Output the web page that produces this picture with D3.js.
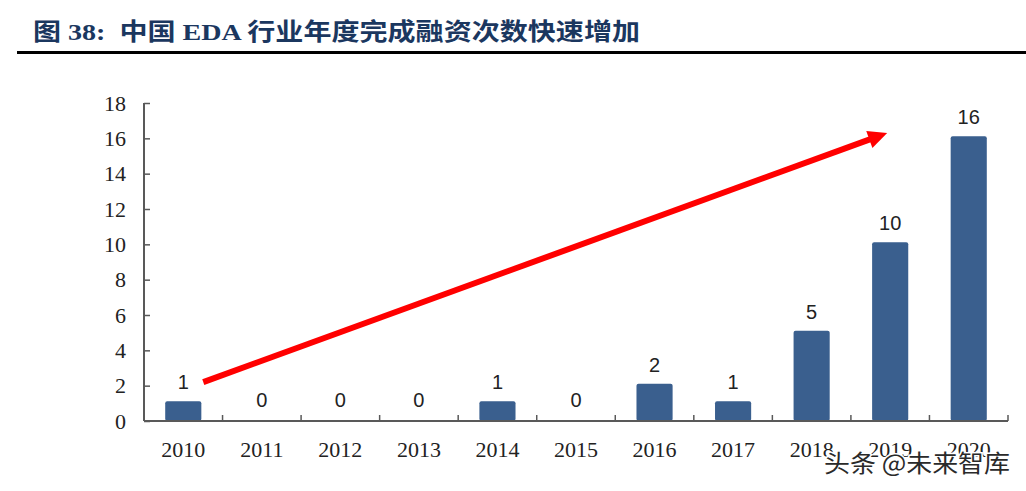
<!DOCTYPE html>
<html>
<head>
<meta charset="utf-8">
<script src="https://cdn.jsdelivr.net/npm/d3@7"></script>
<style>
  html, body { margin: 0; padding: 0; background: #fff; }
  svg { display: block; }
</style>
</head>
<body>
<div id="chart"></div>
<script>
// ---- data ----
const years = ["2010","2011","2012","2013","2014","2015","2016","2017","2018","2019","2020"];
const counts = [1, 0, 0, 0, 1, 0, 2, 1, 5, 10, 16];
const yTicks = [0, 2, 4, 6, 8, 10, 12, 14, 16, 18];
const titleText = "图 38:  中国 EDA 行业年度完成融资次数快速增加";
const watermarkText = "头条 @未来智库";
// trend arrow annotation in data space: [category, value]
const arrowFrom = ["2010", 2.2];
const arrowTo = ["2019", 16.3];

// ---- layout ----
const W = 1026, H = 491;
const margin = { left: 144, right: 18, top: 103, bottom: 70 };
const plotW = W - margin.left - margin.right;
const plotH = H - margin.top - margin.bottom;

const svg = d3.select("#chart").append("svg")
  .attr("width", W).attr("height", H);

// title
svg.append("text")
  .attr("x", 33).attr("y", 40)
  .attr("font-family", "'Liberation Serif', 'Noto Sans CJK SC', serif")
  .attr("font-weight", "bold")
  .attr("font-size", 24)
  .attr("fill", "#1b375f")
  .attr("textLength", 607)
  .attr("lengthAdjust", "spacingAndGlyphs")
  .style("white-space", "pre")
  .text(titleText);

svg.append("line")
  .attr("x1", 17).attr("x2", W)
  .attr("y1", 52.5).attr("y2", 52.5)
  .attr("stroke", "#000").attr("stroke-width", 3);

const g = svg.append("g").attr("transform", `translate(${margin.left},${margin.top})`);

const x = d3.scaleBand().domain(years).range([0, plotW])
  .paddingInner(0.54).paddingOuter(0.27);
const y = d3.scaleLinear().domain([0, 18]).range([plotH, 0]);
const step = x.step();
const lift = v => (v > 0 ? 2 : 0);

// bars
g.selectAll("rect.bar").data(years).join("rect")
  .attr("class", "bar")
  .attr("x", d => x(d))
  .attr("width", x.bandwidth())
  .attr("y", (d, i) => y(counts[i]) - lift(counts[i]))
  .attr("height", (d, i) => plotH - y(counts[i]) + lift(counts[i]))
  .attr("rx", 2)
  .attr("fill", "#3a5f8e");

// value labels
g.selectAll("text.val").data(years).join("text")
  .attr("class", "val")
  .attr("x", d => x(d) + x.bandwidth() / 2)
  .attr("y", (d, i) => y(counts[i]) - 14)
  .attr("text-anchor", "middle")
  .attr("font-family", "'Liberation Sans', Arial, sans-serif")
  .attr("font-size", 20)
  .attr("fill", "#222")
  .text((d, i) => counts[i]);

// y axis
const axisColor = "#595959";
const yAxis = g.append("g")
  .call(d3.axisLeft(y).tickValues(yTicks).tickSize(-6).tickPadding(18).tickFormat(d3.format("d")));
yAxis.select(".domain").attr("stroke", axisColor).attr("stroke-width", 2)
  .attr("d", `M0,0V${plotH}`);
yAxis.selectAll(".tick line").attr("stroke", axisColor).attr("stroke-width", 1.5);
yAxis.selectAll(".tick text")
  .attr("font-family", "'Liberation Serif', 'Times New Roman', serif")
  .attr("font-size", 22).attr("fill", "#222");

// x axis
const xAxis = g.append("g").attr("transform", `translate(0,${plotH})`)
  .call(d3.axisBottom(x).tickSize(0).tickPadding(20));
xAxis.select(".domain").attr("stroke", axisColor).attr("stroke-width", 2)
  .attr("d", `M0,0H${plotW}`);
xAxis.selectAll(".tick text")
  .attr("font-family", "'Liberation Serif', 'Times New Roman', serif")
  .attr("font-size", 22).attr("fill", "#222");
// boundary ticks between categories (pointing up)
g.selectAll("line.xb").data(years).join("line")
  .attr("class", "xb")
  .attr("x1", d => x(d) - (step - x.bandwidth()) / 2 + step)
  .attr("x2", d => x(d) - (step - x.bandwidth()) / 2 + step)
  .attr("y1", plotH).attr("y2", plotH - 6)
  .attr("stroke", axisColor).attr("stroke-width", 1.5);

// red trend arrow
const ax1 = x(arrowFrom[0]) + x.bandwidth() / 2 + 20;
const ay1 = y(arrowFrom[1]);
const ax2 = x(arrowTo[0]) + x.bandwidth() / 2 - 3;
const ay2 = y(arrowTo[1]);
const ang = Math.atan2(ay2 - ay1, ax2 - ax1);
const headLen = 19, headHalf = 9;
const bx = ax2 - headLen * Math.cos(ang), by = ay2 - headLen * Math.sin(ang);
g.append("line")
  .attr("x1", ax1).attr("y1", ay1)
  .attr("x2", bx + 2 * Math.cos(ang)).attr("y2", by + 2 * Math.sin(ang))
  .attr("stroke", "#ff0000").attr("stroke-width", 6);
const nx = -Math.sin(ang), ny = Math.cos(ang);
g.append("path")
  .attr("d", d3.line()([
    [ax2, ay2],
    [bx + nx * headHalf, by + ny * headHalf],
    [bx - nx * headHalf, by - ny * headHalf]
  ]) + "Z")
  .attr("fill", "#ff0000");

// watermark
svg.append("text")
  .attr("x", 824).attr("y", 472)
  .attr("font-family", "'Noto Sans CJK SC', sans-serif")
  .attr("font-size", 24)
  .attr("fill", "#2a2a2a")
  .attr("stroke", "#fff").attr("stroke-width", 3)
  .attr("paint-order", "stroke")
  .attr("textLength", 186)
  .attr("lengthAdjust", "spacingAndGlyphs")
  .text(watermarkText);
</script>
</body>
</html>
